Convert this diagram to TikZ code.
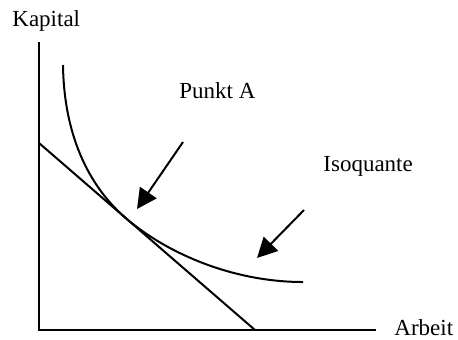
\documentclass[tikz,border=0pt]{standalone}
\usepackage{fontspec}
\setmainfont{Liberation Serif}
\usepackage{tikz}
\usetikzlibrary{arrows.meta}

\begin{document}
\begin{tikzpicture}[
  x=0.5pt, y=-0.5pt,
  font=\fontsize{11.5}{14}\selectfont,
  lbl/.style={inner sep=0pt, anchor=base west},
  axis/.style={line width=1pt},
  iso/.style={line width=1pt},
  arr/.style={-{Triangle[length=10pt, width=10pt]}, line width=1pt}
]
\useasboundingbox (0,0) rectangle (458,339);
\coordinate (o) at (39,330);
\coordinate (ytop) at (39,42);
\coordinate (xend) at (376,330);
\coordinate (kstart) at (39,143);
\coordinate (kend) at (255,330);
\coordinate (isostart) at (63,65);
\coordinate (touch) at (128,220);
\coordinate (isoend) at (303,282);
\coordinate (atail) at (183,142);
\coordinate (atip) at (137,209);
\coordinate (itail) at (304,210);
\coordinate (itip) at (257,258);
\node[lbl] (kapital) at (12,26) {Kapital};
\node[lbl] (arbeit) at (394,335) {Arbeit};
\node[lbl] (punkta) at (179,98) {Punkt A};
\node[lbl] (isoq) at (323,171) {Isoquante};
\draw[axis] (ytop) -- (o) -- (xend);
\draw[axis] (kstart) -- (kend);
\draw[iso] (isostart) .. controls (64,140) and (92,190) .. (touch)
  .. controls (170,255) and (235,282) .. (isoend);
\draw[arr] (atail) -- (atip);
\draw[arr] (itail) -- (itip);
\end{tikzpicture}
\end{document}
